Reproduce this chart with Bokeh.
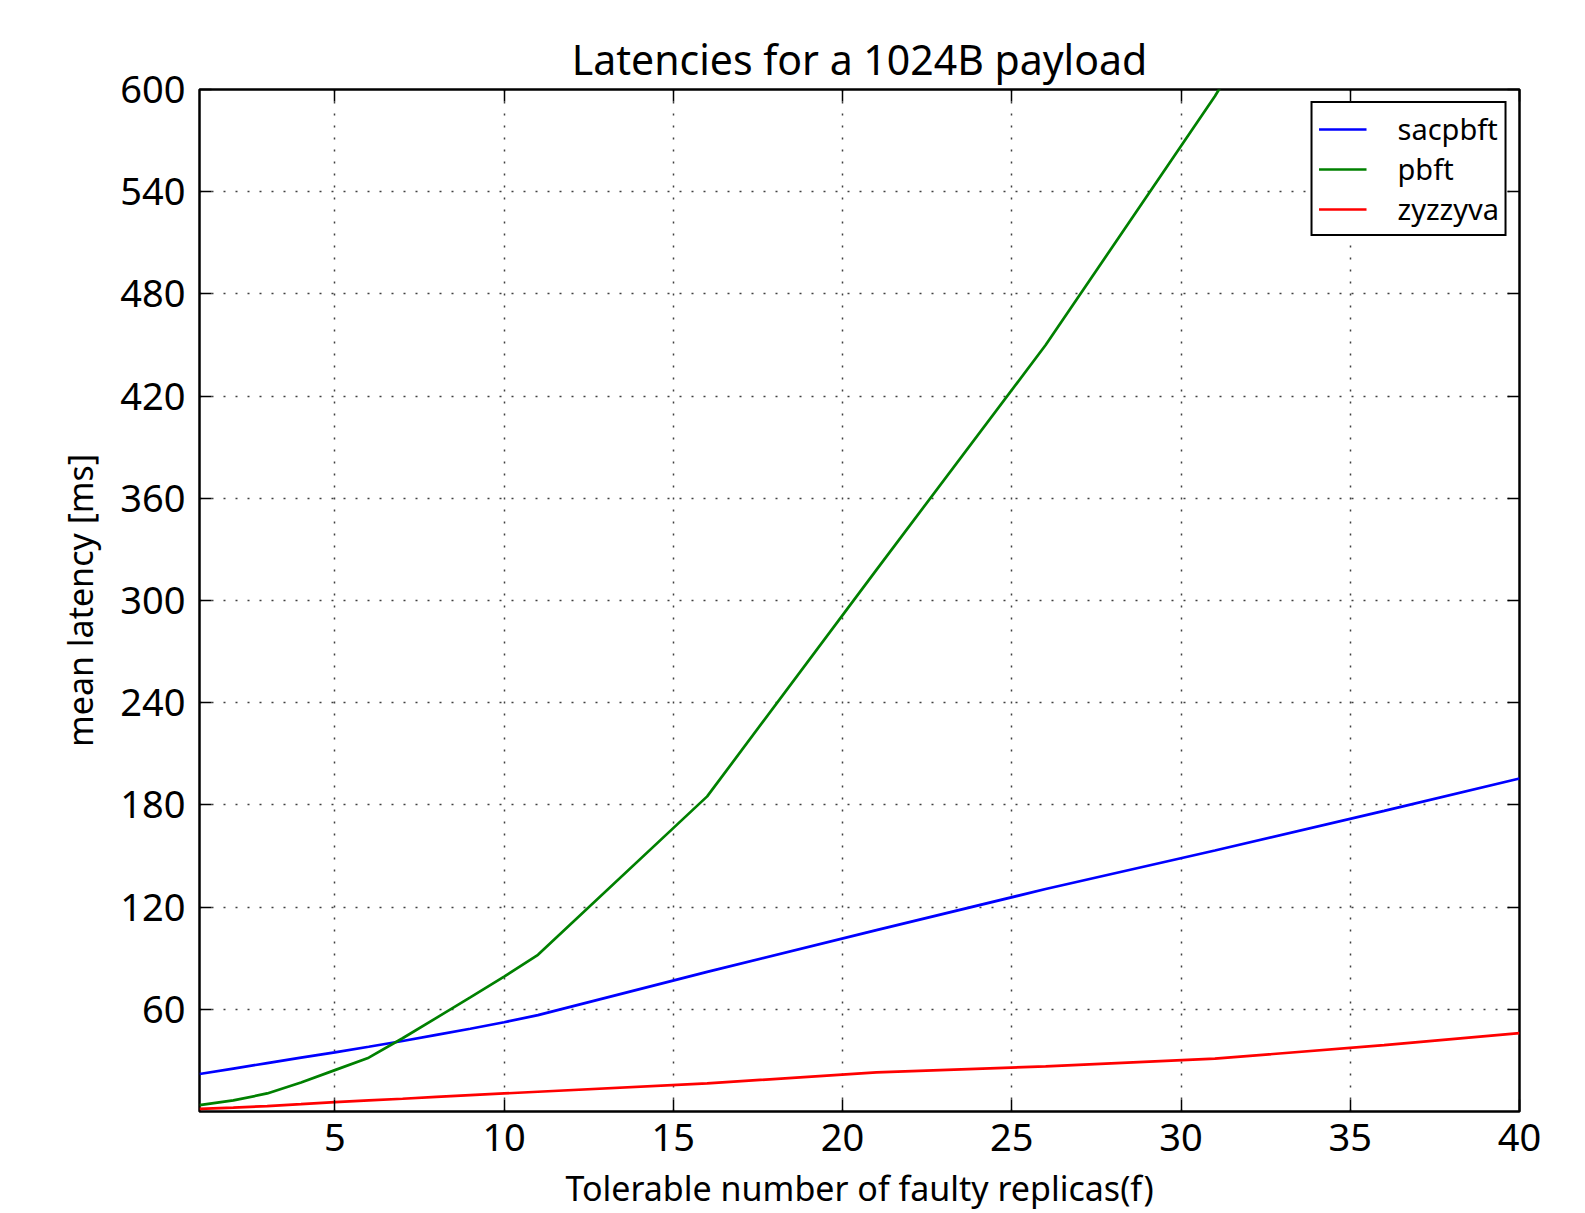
from bokeh.plotting import figure
from bokeh.models import Range1d, FixedTicker, LinearAxis, Legend, LegendItem
from bokeh.embed import file_html
from bokeh.resources import INLINE

# ---- data ----
f_values = [1, 2, 3, 4, 5, 6, 7, 8, 9, 10, 11, 16, 21, 26, 31, 36, 40]
sacpbft = [22.0, 25.2, 28.4, 31.6, 34.7, 38.0, 41.4, 45.0, 48.6, 52.4, 56.6,
           82.0, 106.5, 130.6, 153.2, 176.5, 195.5]
pbft = [3.7, 6.5, 10.6, 17.0, 24.3, 31.6, 43.0, 55.0, 67.0, 79.2, 92.0,
        185.0, 318.0, 450.0, 596.0, 760.0, 900.0]
zyzzyva = [1.5, 2.3, 3.2, 4.3, 5.5, 6.5, 7.5, 8.6, 9.6, 10.6, 11.6,
           16.5, 23.0, 26.5, 31.0, 39.0, 46.0]

x_ticks = [5, 10, 15, 20, 25, 30, 35, 40]
y_ticks = [60, 120, 180, 240, 300, 360, 420, 480, 540, 600]

title_text = "Latencies for a 1024B payload"
y_label = "mean latency [ms]"
x_label = "Tolerable number of faulty replicas(f)"

FONT = "Noto Sans"

p = figure(width=1585, height=1213, output_backend="svg", toolbar_location=None,
           x_range=Range1d(1, 40), y_range=Range1d(0, 600),
           min_border_left=199, min_border_right=66, min_border_top=89, min_border_bottom=102,
           title=title_text)

p.background_fill_color = "white"
p.border_fill_color = "white"
p.outline_line_color = "black"
p.outline_line_width = 2.5

p.title.align = "center"
p.title.text_font = FONT
p.title.text_font_size = "41px"
p.title.text_font_style = "normal"
p.title.text_color = "black"
p.title.standoff = 6

# main axes
for ax, ticks in ((p.xaxis[0], x_ticks), (p.yaxis[0], y_ticks)):
    ax.ticker = FixedTicker(ticks=ticks)
    ax.axis_line_color = None
    ax.major_tick_in = 12
    ax.major_tick_out = 0
    ax.major_tick_line_color = "black"
    ax.major_tick_line_width = 1.5
    ax.minor_tick_line_color = None
    ax.major_label_text_font = FONT
    ax.major_label_text_font_size = "38px"
    ax.major_label_text_color = "black"
    ax.axis_label_text_font = FONT
    ax.axis_label_text_font_size = "34px"
    ax.axis_label_text_font_style = "normal"
    ax.axis_label_text_color = "black"

p.xaxis[0].major_label_standoff = 12
p.xaxis[0].axis_label = x_label
p.xaxis[0].axis_label_standoff = 11
p.yaxis[0].major_label_standoff = 14
p.yaxis[0].axis_label = y_label
p.yaxis[0].axis_label_standoff = 14

# mirrored tick axes (top and right), ticks only
for loc, ticks in (("above", x_ticks), ("right", y_ticks)):
    ax = LinearAxis(ticker=FixedTicker(ticks=ticks))
    ax.axis_line_color = None
    ax.major_tick_in = 12
    ax.major_tick_out = 0
    ax.major_tick_line_color = "black"
    ax.major_tick_line_width = 1.5
    ax.minor_tick_line_color = None
    ax.major_label_text_color = None
    ax.major_label_text_font_size = "1px"
    ax.major_label_standoff = 0
    p.add_layout(ax, loc)

# grid
for g in (p.xgrid[0], p.ygrid[0]):
    g.grid_line_color = "black"
    g.grid_line_alpha = 0.75
    g.grid_line_width = 1.5
    g.grid_line_dash = "2 10"

r1 = p.line(f_values, sacpbft, line_color="#0000ff", line_width=2.7)
r2 = p.line(f_values, pbft, line_color="#008000", line_width=2.7)
r3 = p.line(f_values, zyzzyva, line_color="#ff0000", line_width=2.7)

legend = Legend(items=[LegendItem(label="sacpbft", renderers=[r1]),
                       LegendItem(label="pbft", renderers=[r2]),
                       LegendItem(label="zyzzyva", renderers=[r3])],
                location="top_right")
legend.margin = 12
legend.padding = 6
legend.spacing = 1
legend.glyph_width = 48
legend.glyph_height = 20
legend.label_standoff = 31
legend.label_text_font = FONT
legend.label_text_font_size = "29px"
legend.label_text_color = "black"
legend.border_line_color = "black"
legend.border_line_alpha = 1
legend.border_line_width = 2
legend.background_fill_color = "white"
legend.background_fill_alpha = 1
p.add_layout(legend)

open("out.html", "w").write(file_html(p, INLINE))
